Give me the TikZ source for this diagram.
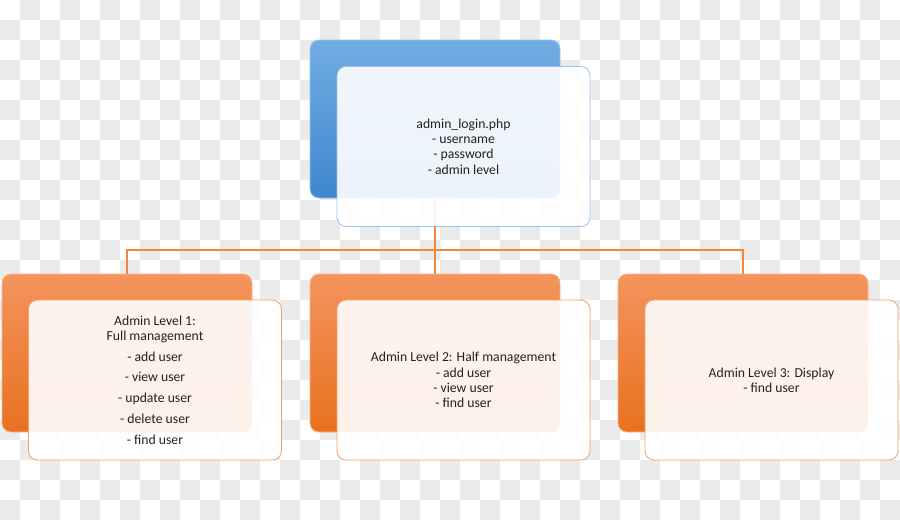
\documentclass[tikz,border=0pt]{standalone}
\usepackage{fontspec}
\setmainfont{Carlito}
\definecolor{chk}{HTML}{EBEBEB}
\definecolor{bluetop}{HTML}{72ADE3}
\definecolor{bluebot}{HTML}{3F87CE}
\definecolor{blueline}{HTML}{9DC3EA}
\definecolor{orgtop}{HTML}{F4945E}
\definecolor{orgbot}{HTML}{E8711F}
\definecolor{orgline}{HTML}{F5A06A}
\definecolor{conn}{HTML}{F0883E}
\definecolor{txt}{HTML}{222222}
\tikzset{
  backbox/.style={rectangle, rounded corners=9pt, minimum width=250pt, minimum height=158pt, inner sep=0pt},
  bluebk/.style={backbox, top color=bluetop, bottom color=bluebot, draw=bluetop!70!white, line width=0.8pt},
  orgbk/.style={backbox, top color=orgtop, bottom color=orgbot, draw=orgtop!70!white, line width=0.8pt},
  frontbox/.style={rectangle, rounded corners=9pt, minimum width=253pt, minimum height=160pt, inner sep=2pt, align=center, font=\fontsize{13.7}{15.3}\selectfont, text=txt, line width=0.8pt, fill=white, fill opacity=0.9, text opacity=1},
  bluefr/.style={frontbox, draw=blueline},
  orgfr/.style={frontbox, draw=orgline},
  connector/.style={draw=conn, line width=1.3pt}
}
\begin{document}
\begin{tikzpicture}[x=1pt, y=-1pt]
\useasboundingbox (0,0) rectangle (900,520);
\fill[white] (0,0) rectangle (900,520);
\foreach \i in {0,...,44}{
  \foreach \j in {0,...,25}{
    \pgfmathtruncatemacro\k{mod(\i+\j,2)}
    \ifnum\k=1 \fill[chk] (\i*20,\j*20) rectangle ++(20,20);\fi
  }
}
% back boxes
\node[bluebk] (topback) at (435,119) {};
\node[orgbk] (b1back) at (127,353) {};
\node[orgbk] (b2back) at (435,353) {};
\node[orgbk] (b3back) at (743,353) {};
% connectors
\coordinate (junc) at (435,250);
\draw[connector] (topback.south) -- (junc);
\draw[connector] (junc) -| (b1back.north);
\draw[connector] (junc) -- (b2back.north);
\draw[connector] (junc) -| (b3back.north);
% front boxes
\node[bluefr] (topfront) at (463.5,146.5) {admin\_login.php\\- username\\- password\\- admin level};
\node[orgfr] (b1front) at (155,380) {Admin Level 1:\\Full management\\[5.5pt]- add user\\[5.5pt]- view user\\[5.5pt]- update user\\[5.5pt]- delete user\\[5.5pt]- find user};
\node[orgfr] (b2front) at (463.5,380) {Admin Level 2: Half management\\- add user\\- view user\\- find user};
\node[orgfr] (b3front) at (771.5,380) {Admin Level 3: Display\\- find user};
\end{tikzpicture}
\end{document}
